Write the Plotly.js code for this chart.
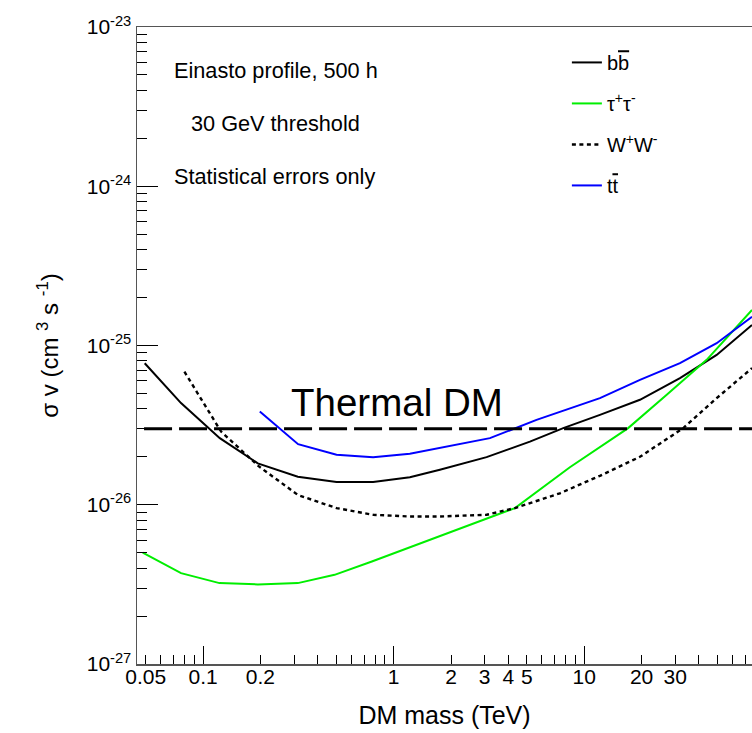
<!DOCTYPE html>
<html><head><meta charset="utf-8">
<script src="https://cdn.plot.ly/plotly-3.0.1.min.js"></script>
<style>html,body{margin:0;padding:0;overflow:hidden;background:#fff}</style>
</head><body><div id="plot" style="width:752px;height:733px"></div>
<script>
// ---- data (mass in TeV, <sigma v> in cm^3 s^-1) ----
const bbMass  = [0.0494, 0.0766, 0.1224, 0.1937, 0.3142, 0.5016, 0.7806, 1.216, 1.748, 3.074, 5.188, 7.759, 12.09, 19.61, 31.80, 49.55, 75.93];
const bbSigma = [7.74e-26, 4.35e-26, 2.62e-26, 1.82e-26, 1.50e-26, 1.39e-26, 1.39e-26, 1.49e-26, 1.66e-26, 1.99e-26, 2.49e-26, 3.03e-26, 3.67e-26, 4.56e-26, 6.24e-26, 8.73e-26, 1.345e-25];

const tauMass  = [0.0482, 0.0766, 0.1219, 0.1937, 0.3142, 0.4896, 0.7686, 1.216, 1.972, 3.074, 4.33, 8.41, 17.0, 27.1, 43.9, 75.93];
const tauSigma = [5.01e-27, 3.72e-27, 3.22e-27, 3.16e-27, 3.22e-27, 3.63e-27, 4.40e-27, 5.41e-27, 6.71e-27, 8.12e-27, 9.53e-27, 1.72e-26, 3.03e-26, 4.90e-26, 8.13e-26, 1.67e-25];

const wwMass  = [0.0798, 0.1243, 0.1963, 0.3152, 0.5016, 0.7806, 1.216, 1.748, 3.074, 4.33, 7.45, 12.09, 19.61, 33.1, 49.55, 75.93];
const wwSigma = [6.85e-26, 2.88e-26, 1.74e-26, 1.15e-26, 9.53e-27, 8.65e-27, 8.44e-27, 8.44e-27, 8.65e-27, 9.53e-27, 1.18e-26, 1.52e-26, 2.00e-26, 3.03e-26, 4.67e-26, 7.21e-26];

const ttMass  = [0.1984, 0.3152, 0.5016, 0.7806, 1.216, 1.748, 3.20, 5.62, 12.09, 19.61, 31.80, 49.55, 75.93];
const ttSigma = [3.85e-26, 2.40e-26, 2.06e-26, 1.99e-26, 2.09e-26, 2.27e-26, 2.62e-26, 3.41e-26, 4.67e-26, 6.08e-26, 7.74e-26, 1.033e-25, 1.517e-25];

const thermalMass  = [0.049, 100];
const thermalSigma = [3e-26, 3e-26];

const seriesNames = ["b<span style='text-decoration:overline'>b</span>", "τ<sup>+</sup>τ<sup>-</sup>", "W<sup>+</sup>W<sup>-</sup>", "t<span style='text-decoration:overline'>t</span>"];

const xTickVals = [0.05, 0.1, 0.2, 1, 2, 3, 4, 5, 10, 20, 30];
const xTickText = ["0.05", "0.1", "0.2", "1", "2", "3", "4", "5", "10", "20", "30"];
const xMajorVals = [0.1, 1, 10];
const yTickVals = [1e-27, 1e-26, 1e-25, 1e-24, 1e-23];
const yTickText = ["10<sup>-27</sup>", "10<sup>-26</sup>", "10<sup>-25</sup>", "10<sup>-24</sup>", "10<sup>-23</sup>"];
const infoLines = ["Einasto profile, 500 h", "30 GeV threshold", "Statistical errors only"];
const thermalLabel = "Thermal DM";

// ---- minor tick positions ----
const xMinor = [];
for (let d = -2; d <= 1; d++) for (let k = 1; k <= 9; k++) {
  const v = k * Math.pow(10, d);
  if (!xTickVals.some(t => Math.abs(t - v) / v < 1e-6)) xMinor.push(v);
}
const yMinor = [];
for (let d = -27; d <= -24; d++) for (let k = 2; k <= 9; k++) yMinor.push(k * Math.pow(10, d));

const FONT = "Liberation Sans, Arial, Helvetica, sans-serif";
const xr = [Math.log10(0.045), Math.log10(75.93)];

const traces = [
  {x: bbMass, y: bbSigma, name: seriesNames[0], legendgroup: "a", mode: "lines", line: {color: "#000000", width: 2}},
  {x: tauMass, y: tauSigma, name: seriesNames[1], legendgroup: "b", mode: "lines", line: {color: "#00ee00", width: 2}},
  {x: wwMass, y: wwSigma, name: seriesNames[2], legendgroup: "c", mode: "lines", line: {color: "#000000", width: 2.4, dash: "4px,3.5px"}},
  {x: ttMass, y: ttSigma, name: seriesNames[3], legendgroup: "d", mode: "lines", line: {color: "#0000ff", width: 2}},
  {x: thermalMass, y: thermalSigma, xaxis: "x2", showlegend: false, mode: "lines", line: {color: "#000000", width: 3.2, dash: "28px,7px"}, hoverinfo: "skip"}
];

const layout = {
  width: 752, height: 733,
  margin: {l: 137, r: 0, t: 27, b: 69},
  paper_bgcolor: "#ffffff", plot_bgcolor: "#ffffff",
  font: {family: FONT, color: "#000000"},
  showlegend: true,
  legend: {x: 0.699, y: 0.975, xanchor: "left", yanchor: "top", bgcolor: "rgba(0,0,0,0)",
           font: {size: 20, family: FONT}, tracegroupgap: 12, traceorder: "grouped"},
  xaxis: {type: "log", range: xr, tickmode: "array", tickvals: xTickVals, ticktext: xTickText,
          ticks: "inside", ticklen: 9, tickcolor: "#000", tickwidth: 1, ticklabelstandoff: -7,
          minor: {tickmode: "array", tickvals: xMinor, ticks: "inside", ticklen: 9, tickcolor: "#000", showgrid: false},
          showgrid: false, zeroline: false, showline: true, linecolor: "#555", linewidth: 1.5, mirror: true,
          tickfont: {size: 21, family: FONT},
          title: {text: "DM mass (TeV)", font: {size: 25, family: FONT}, standoff: 20}},
  xaxis2: {type: "log", range: xr, overlaying: "x", anchor: "y", side: "bottom", tickmode: "array", tickvals: xMajorVals,
           ticks: "inside", ticklen: 18, tickcolor: "#000", showticklabels: false, showgrid: false, zeroline: false, showline: false},
  yaxis: {type: "log", range: [-27, -23], tickmode: "array", tickvals: yTickVals, ticktext: yTickText,
          ticks: "inside", ticklen: 21, tickcolor: "#000", tickwidth: 1,
          minor: {tickmode: "array", tickvals: yMinor, ticks: "inside", ticklen: 10, tickcolor: "#000", showgrid: false},
          showgrid: false, zeroline: false, showline: true, linecolor: "#555", linewidth: 1.5,
          tickfont: {size: 21, family: FONT},
          title: {text: "σ v (cm <sup>3</sup> s <sup>-1</sup>)", font: {size: 24, family: FONT}, standoff: 21}},
  annotations: [
    {xref: "paper", yref: "paper", x: 0.0570, y: 0.931, xanchor: "left", yanchor: "middle", showarrow: false, text: infoLines[0], font: {size: 21.7, family: FONT}},
    {xref: "paper", yref: "paper", x: 0.0850, y: 0.848, xanchor: "left", yanchor: "middle", showarrow: false, text: infoLines[1], font: {size: 21.7, family: FONT}},
    {xref: "paper", yref: "paper", x: 0.0570, y: 0.766, xanchor: "left", yanchor: "middle", showarrow: false, text: infoLines[2], font: {size: 21.7, family: FONT}},
    {xref: "paper", yref: "paper", x: 0.2470, y: 0.411, xanchor: "left", yanchor: "middle", showarrow: false, text: thermalLabel, font: {size: 38.5, family: FONT}}
  ]
};

Plotly.newPlot("plot", traces, layout, {staticPlot: true, displayModeBar: false});
</script></body></html>
